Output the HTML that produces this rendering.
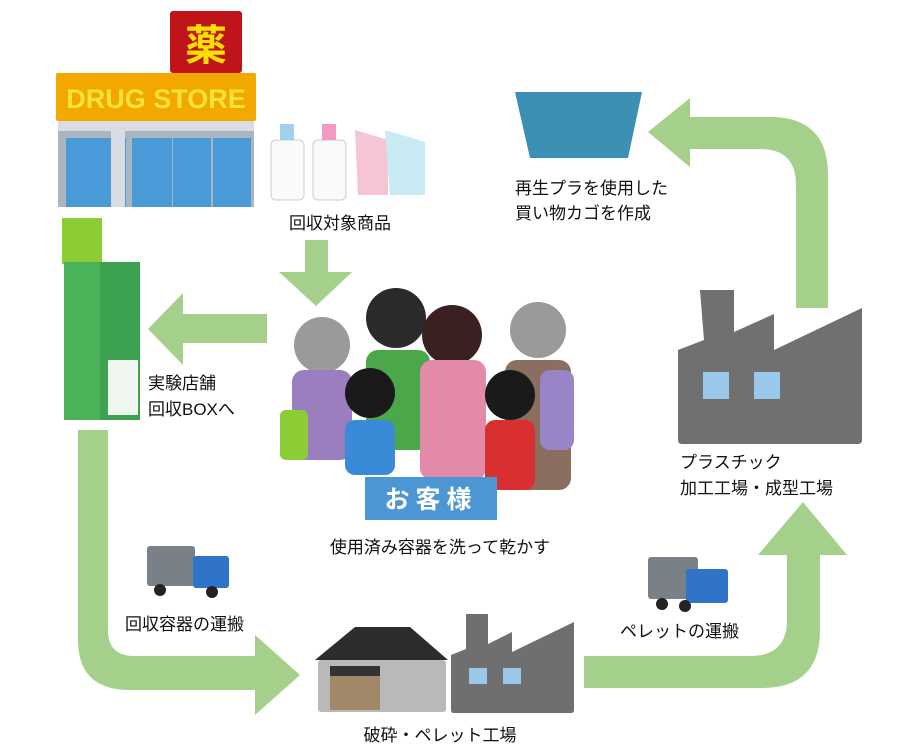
<!DOCTYPE html>
<html><head><meta charset="utf-8"><style>
html,body{margin:0;padding:0;background:#fff;}
svg{display:block;}
text{font-family:"Liberation Sans","Noto Sans CJK JP",sans-serif;fill:#111;}
</style></head><body>
<svg width="924" height="754" viewBox="0 0 924 754" xmlns="http://www.w3.org/2000/svg">
<!-- arrows -->
<g fill="#a5d08b">
<rect x="305" y="240" width="23" height="32"/>
<polygon points="279,272 352,272 316,306"/>
<rect x="183" y="314" width="84" height="29"/>
<polygon points="183,293 183,365 148,329"/>
<path d="M78,430 H108 V630 Q108,656 134,656 H255 V690 H130 Q78,690 78,640 Z"/>
<polygon points="255,635 255,715 300,675"/>
<path d="M584,656 H750 Q787,656 787,620 V555 H820 V630 Q820,688 762,688 H584 Z"/>
<polygon points="758,555 847,555 803,502"/>
<path d="M796,308 V185 Q796,149 760,149 H690 V117 H770 Q828,117 828,175 V308 Z"/>
<polygon points="690,98 690,167 648,132"/>
</g>
<!-- drug store -->
<rect x="170" y="11" width="72" height="62" rx="3" fill="#c0141b"/>
<text x="206" y="60" font-size="42" font-weight="bold" text-anchor="middle" style="fill:#f7e000">薬</text>
<rect x="56" y="73" width="200" height="48" rx="2" fill="#f3a800"/>
<text x="156" y="108" font-size="27" font-weight="bold" text-anchor="middle" style="fill:#f8e23a">DRUG STORE</text>
<rect x="58" y="121" width="196" height="86" fill="#a9b6c2"/>
<rect x="66" y="138" width="60" height="69" fill="#4a9ad8"/>
<rect x="132" y="138" width="40" height="69" fill="#4a9ad8"/>
<rect x="173" y="138" width="38" height="69" fill="#4a9ad8"/>
<rect x="213" y="138" width="38" height="69" fill="#4a9ad8"/>
<rect x="58" y="121" width="196" height="10" fill="#d7dde3"/>
<rect x="111" y="121" width="14" height="86" fill="#d7dde3"/>
<!-- products -->
<rect x="271" y="140" width="33" height="60" rx="5" fill="#fafafa" stroke="#ccc"/>
<rect x="280" y="124" width="14" height="16" fill="#9fd0ee"/>
<rect x="313" y="140" width="33" height="60" rx="5" fill="#fafafa" stroke="#ccc"/>
<rect x="322" y="124" width="14" height="16" fill="#f19ac4"/>
<path d="M355,130 L388,140 V195 L358,195 Z" fill="#f5c4d6"/>
<path d="M385,130 L425,142 V195 L390,195 Z" fill="#c8eaf2"/>
<text x="340" y="229" font-size="17" text-anchor="middle">回収対象商品</text>
<!-- box -->
<rect x="62" y="218" width="40" height="46" fill="#8ccc34"/>
<rect x="64" y="262" width="76" height="158" fill="#3da24f"/>
<rect x="64" y="262" width="36" height="158" fill="#4ab35a"/>
<rect x="108" y="360" width="30" height="55" fill="#f0f6f0"/>
<text x="148" y="389" font-size="17">実験店舗</text>
<text x="148" y="415" font-size="17">回収BOXへ</text>
<!-- people -->
<circle cx="322" cy="345" r="28" fill="#9a9a9a"/>
<rect x="292" y="370" width="60" height="90" rx="12" fill="#9a7ec0"/>
<circle cx="396" cy="318" r="30" fill="#2a2a2a"/>
<rect x="366" y="350" width="64" height="100" rx="12" fill="#4aa84a"/>
<circle cx="452" cy="335" r="30" fill="#3a2020"/>
<rect x="420" y="360" width="66" height="120" rx="12" fill="#e38aa8"/>
<circle cx="538" cy="330" r="28" fill="#9a9a9a"/>
<rect x="505" y="360" width="66" height="130" rx="12" fill="#8a6e60"/>
<circle cx="370" cy="393" r="25" fill="#1a1a1a"/>
<rect x="345" y="420" width="50" height="55" rx="10" fill="#3a8ad8"/>
<circle cx="510" cy="395" r="25" fill="#1a1a1a"/>
<rect x="485" y="420" width="50" height="70" rx="10" fill="#d83030"/>
<rect x="280" y="410" width="28" height="50" rx="6" fill="#8ccc34"/>
<rect x="540" y="370" width="34" height="80" rx="10" fill="#9a84c8"/>
<rect x="365" y="477" width="132" height="43" fill="#4d96d4"/>
<text x="431" y="508" font-size="25" font-weight="bold" text-anchor="middle" letter-spacing="6" style="fill:#fff">お客様</text>
<text x="440" y="553" font-size="17" text-anchor="middle">使用済み容器を洗って乾かす</text>
<!-- truck 1 -->
<rect x="147" y="546" width="48" height="40" rx="3" fill="#7a8088"/>
<rect x="193" y="556" width="36" height="32" rx="3" fill="#2f74c8"/>
<circle cx="160" cy="590" r="6" fill="#222"/><circle cx="212" cy="592" r="6" fill="#222"/>
<text x="125" y="630" font-size="17">回収容器の運搬</text>
<!-- truck 2 -->
<rect x="648" y="557" width="50" height="42" rx="3" fill="#7a8088"/>
<rect x="686" y="569" width="42" height="34" rx="3" fill="#2f74c8"/>
<circle cx="662" cy="604" r="6" fill="#222"/><circle cx="685" cy="606" r="6" fill="#222"/>
<text x="620" y="637" font-size="17">ペレットの運搬</text>
<!-- warehouse + factory bottom -->
<polygon points="315,660 355,627 410,627 448,660" fill="#2c2c2c"/>
<rect x="318" y="660" width="128" height="52" rx="3" fill="#b9b9b9"/>
<rect x="330" y="666" width="50" height="44" fill="#a08868"/>
<rect x="330" y="666" width="50" height="10" fill="#333"/>
<path d="M466,614 h22 v30 l24,-12 v20 l62,-30 v88 q0,3 -3,3 h-117 q-3,0 -3,-3 v-55 l15,-6 z" fill="#6f6f6f"/>
<rect x="469" y="668" width="18" height="16" fill="#9ac8ea"/>
<rect x="503" y="668" width="18" height="16" fill="#9ac8ea"/>
<text x="440" y="741" font-size="17" text-anchor="middle">破砕・ペレット工場</text>
<!-- factory right -->
<path d="M700,290 h34 v42 l40,-18 v36 l88,-42 v132 q0,4 -4,4 h-176 q-4,0 -4,-4 v-90 l26,-10 z" fill="#707070"/>
<rect x="703" y="372" width="26" height="27" fill="#9ac8ea"/>
<rect x="754" y="372" width="26" height="27" fill="#9ac8ea"/>
<text x="680" y="468" font-size="17">プラスチック</text>
<text x="680" y="494" font-size="17">加工工場・成型工場</text>
<!-- basket -->
<path d="M515,92 H642 L628,158 H530 Z" fill="#3b8fb2"/>
<text x="515" y="194" font-size="17">再生プラを使用した</text>
<text x="515" y="219" font-size="17">買い物カゴを作成</text>
</svg>
</body></html>
